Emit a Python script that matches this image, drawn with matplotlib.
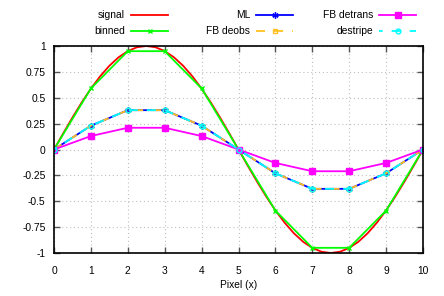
import matplotlib
matplotlib.use("Agg")
import matplotlib.pyplot as plt
from matplotlib.lines import Line2D

plt.rcParams['font.family'] = ['Liberation Sans', 'DejaVu Sans']
plt.rcParams['font.size'] = 7.4

# smooth input signal, sampled every 0.25 pixel
sig_x = [i * 0.25 for i in range(41)]
sig_y = [0.0, 0.156, 0.309, 0.454, 0.588, 0.707, 0.809, 0.891, 0.951, 0.988,
         1.0, 0.988, 0.951, 0.891, 0.809, 0.707, 0.588, 0.454, 0.309, 0.156,
         0.0, -0.156, -0.309, -0.454, -0.588, -0.707, -0.809, -0.891, -0.951, -0.988,
         -1.0, -0.988, -0.951, -0.891, -0.809, -0.707, -0.588, -0.454, -0.309, -0.156, 0.0]

pix = [0, 1, 2, 3, 4, 5, 6, 7, 8, 9, 10]
binned = [0, 0.59, 0.95, 0.95, 0.59, 0, -0.59, -0.95, -0.95, -0.59, 0]
ml = [0, 0.23, 0.38, 0.38, 0.23, 0, -0.23, -0.38, -0.38, -0.23, 0]
fb_deobs = [0, 0.23, 0.38, 0.38, 0.23, 0, -0.23, -0.38, -0.38, -0.23, 0]
fb_detrans = [0, 0.13, 0.21, 0.21, 0.13, 0, -0.13, -0.21, -0.21, -0.13, 0]
destripe = [0, 0.23, 0.38, 0.38, 0.23, 0, -0.23, -0.38, -0.38, -0.23, 0]

W, H = 444, 296
fig = plt.figure(figsize=(W / 100, H / 100), dpi=100)
ax = fig.add_axes([54 / W, 1 - 253 / H, (423 - 54) / W, (253 - 46) / H])

lw = 1.3
styles = {
    'signal': dict(color='#ff0000', lw=lw),
    'binned': dict(color='#00ff00', lw=lw, marker='x', ms=3.5, mew=1),
    'ML': dict(color='#0000ff', lw=lw, marker=(6, 2, 0), ms=4.5, mew=1),
    'FB deobs': dict(color='#ffc020', lw=lw, ls=(0, (5, 5)), marker='s', ms=3.5,
                     mfc='none', mew=1),
    'FB detrans': dict(color='#ff00ff', lw=lw, marker='s', ms=4.5),
    'destripe': dict(color='#00ffff', lw=lw, ls=(3, (5, 5)), marker='o', ms=3.5,
                     mfc='none', mew=1),
}

ax.plot(sig_x, sig_y, **styles['signal'])
ax.plot(pix, binned, **styles['binned'])
ax.plot(pix, ml, **styles['ML'])
ax.plot(pix, fb_deobs, **styles['FB deobs'])
ax.plot(pix, fb_detrans, **styles['FB detrans'])
ax.plot(pix, destripe, **styles['destripe'])

ax.set_xlim(0, 10)
ax.set_ylim(-1, 1)
ax.set_xticks(pix)
ax.set_yticks([-1, -0.75, -0.5, -0.25, 0, 0.25, 0.5, 0.75, 1])
ax.set_yticklabels(['-1', '-0.75', '-0.5', '-0.25', '0', '0.25', '0.5', '0.75', '1'])
ax.tick_params(direction='in', top=True, right=True, length=4, width=1, color='#555555')
ax.tick_params(axis='x', pad=9)
ax.tick_params(axis='y', pad=6)
ax.grid(True, color='#c0c0c0', ls=(0, (1, 2.5)), lw=0.8)
for s in ax.spines.values():
    s.set_linewidth(1.2)
ax.set_xlabel('Pixel (x)', labelpad=3)

# gnuplot-style key: right-aligned label, then sample
key = [('signal', 125, 15), ('binned', 125, 31), ('ML', 250, 15),
       ('FB deobs', 250, 31), ('FB detrans', 373, 15), ('destripe', 373, 31)]
for name, xr, yc in key:
    fig.text(xr / W, 1 - yc / H, name, ha='right', va='center')
    st = dict(styles[name])
    st.pop('marker', None)
    fig.add_artist(Line2D([(xr + 6) / W, (xr + 43) / W], [1 - yc / H] * 2,
                          transform=fig.transFigure, **st))
    if 'marker' in styles[name]:
        mk = dict(styles[name])
        mk['ls'] = 'none'
        fig.add_artist(Line2D([(xr + 24.5) / W], [1 - yc / H],
                              transform=fig.transFigure, **mk))

fig.savefig('out.png', dpi=100)
